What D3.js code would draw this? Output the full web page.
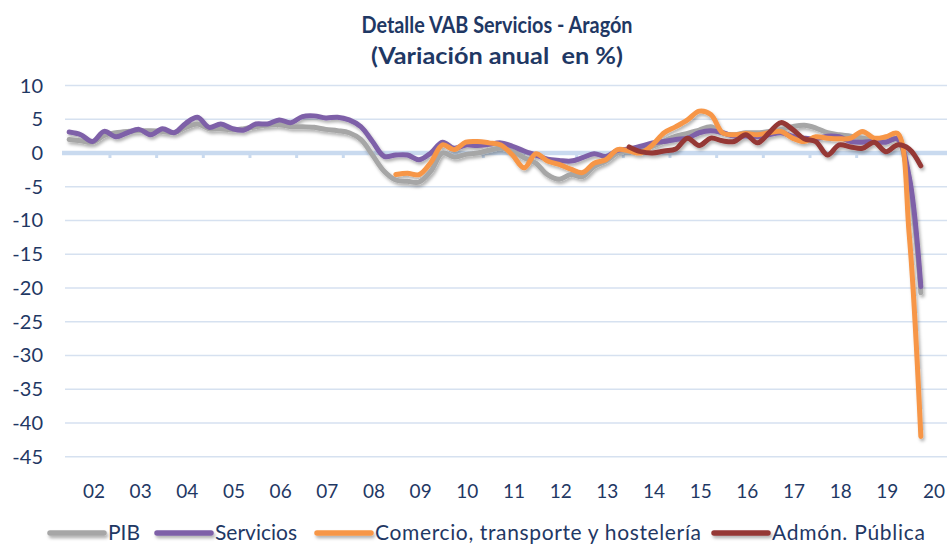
<!DOCTYPE html>
<html>
<head>
<meta charset="utf-8">
<script src="https://cdn.jsdelivr.net/npm/d3@7"></script>
<style>
  body { margin: 0; background: #fff; }
  text { font-family: Lato, "Open Sans", sans-serif; fill: #1F3864; white-space: pre; }
</style>
</head>
<body>
<svg width="947" height="544"></svg>
<script>
// years shown on the axis, quarterly data 2002T1 .. 2020T2
var years = ["02", "03", "04", "05", "06", "07", "08", "09", "10", "11",
             "12", "13", "14", "15", "16", "17", "18", "19", "20"];
var quarters = [];
years.forEach(y => ["T1", "T2", "T3", "T4"].forEach(q => quarters.push(y + q)));
quarters = quarters.slice(0, 74);

var yTicks = [10, 5, 0, -5, -10, -15, -20, -25, -30, -35, -40, -45];

var pib = [2.0, 1.8, 1.6, 2.6, 3.0, 3.2, 3.3, 3.3, 3.2, 3.0, 3.8, 4.3,
           3.6, 3.6, 3.4, 3.6, 3.9, 4.1, 4.2, 3.9, 3.9, 3.8, 3.5, 3.3,
           3.0, 2.0, -0.3, -2.7, -4.0, -4.2, -4.3, -2.7, 0.0, -0.6, -0.2, 0.0,
           0.4, 0.7, 0.3, -0.7, -1.5, -3.2, -3.9, -3.2, -3.5, -2.0, -1.2, 0.0,
           0.3, 0.5, 1.0, 1.8, 2.5, 2.9, 3.4, 3.9, 3.0, 2.7, 3.0, 3.0,
           3.2, 3.5, 3.9, 4.1, 3.7, 3.0, 2.7, 2.5, 2.2, 2.0, 1.9, 2.0,
           -4.5, -20.7];

var servicios = [3.1, 2.7, 1.7, 3.2, 2.4, 3.0, 3.5, 2.7, 3.6, 3.0, 4.4, 5.3,
                 3.8, 4.3, 3.6, 3.4, 4.3, 4.3, 4.9, 4.5, 5.4, 5.5, 5.2, 5.3,
                 4.9, 3.9, 1.7, -0.5, -0.3, -0.3, -1.0, 0.0, 1.6, 0.7, 1.2, 1.1,
                 1.3, 1.5, 1.0, 0.3, -0.3, -0.9, -1.1, -1.2, -0.7, -0.1, -0.5, 0.4,
                 0.6, 1.0, 1.5, 1.7, 2.0, 2.2, 3.0, 3.3, 3.0, 2.5, 2.5, 2.4,
                 2.7, 3.0, 2.5, 2.2, 2.1, 2.5, 2.4, 1.7, 1.6, 1.7, 1.6, 2.1,
                 -3.5, -19.8];

var comercio = [null, null, null, null, null, null, null, null, null, null, null, null,
                null, null, null, null, null, null, null, null, null, null, null, null,
                null, null, null, null, -3.2, -3.0, -3.2, -1.4, 1.2, 0.5, 1.6, 1.7,
                1.5, 1.2, -0.3, -2.2, -0.1, -1.2, -1.7, -2.4, -2.9, -1.5, -1.0, 0.5,
                0.3, 0.0, 1.2, 3.0, 3.9, 4.9, 6.2, 5.7, 3.0, 2.7, 2.9, 2.7,
                3.0, 3.2, 2.2, 1.7, 2.4, 2.2, 2.1, 2.2, 3.2, 2.2, 2.4, 2.9,
                -12.0, -42.0];

var admon = [null, null, null, null, null, null, null, null, null, null, null, null,
             null, null, null, null, null, null, null, null, null, null, null, null,
             null, null, null, null, null, null, null, null, null, null, null, null,
             null, null, null, null, null, null, null, null, null, null, null, null,
             0.9, 0.2, 0.0, 0.3, 0.6, 2.2, 1.1, 2.2, 1.8, 1.7, 2.7, 1.5,
             3.0, 4.5, 3.5, 2.1, 1.7, -0.3, 1.2, 0.9, 0.7, 1.6, 0.2, 1.2,
             0.6, -1.9];

var seriesNames = ["PIB", "Servicios", "Comercio, transporte y hostelería", "Admón. Pública"];
var seriesData = [pib, servicios, comercio, admon];
var colors = ["#A6A6A6", "#7E60A8", "#F79646", "#953735"];

var svg = d3.select("svg");

// drop shadow like the excel lines (user space so flat legend lines work too)
var defs = svg.append("defs");
defs.append("filter")
    .attr("id", "shadow")
    .attr("filterUnits", "userSpaceOnUse")
    .attr("x", 0).attr("y", 0)
    .attr("width", 947).attr("height", 544)
    .append("feDropShadow")
    .attr("dx", 1.5).attr("dy", 2.5)
    .attr("stdDeviation", 1.5)
    .attr("flood-color", "#000")
    .attr("flood-opacity", 0.3);

var x = d3.scaleLinear().domain([-0.5, 75.5]).range([63.3, 950]);
var y = d3.scaleLinear().domain([-45, 10]).range([456.7, 85.5]);

// title
svg.append("text")
    .attr("x", 497).attr("y", 33)
    .attr("text-anchor", "middle")
    .attr("font-size", 22).attr("font-weight", "bold")
    .attr("textLength", 271).attr("lengthAdjust", "spacingAndGlyphs")
    .text("Detalle VAB Servicios - Aragón");
svg.append("text")
    .attr("x", 497).attr("y", 64)
    .attr("text-anchor", "middle")
    .attr("font-size", 22).attr("font-weight", "bold")
    .attr("textLength", 252).attr("lengthAdjust", "spacingAndGlyphs")
    .text("(Variación anual  en %)");

// grid
svg.append("g")
    .selectAll("line")
    .data(yTicks.filter(d => d !== 0))
    .enter()
    .append("line")
    .attr("x1", 65).attr("x2", 947)
    .attr("y1", d => y(d)).attr("y2", d => y(d))
    .attr("stroke", "#D6E1F0")
    .attr("stroke-width", 1.6);

svg.append("line")
    .attr("x1", 62).attr("x2", 947)
    .attr("y1", y(0)).attr("y2", y(0))
    .attr("stroke", "#C9DAEF")
    .attr("stroke-width", 4.5);

// year boundary ticks on the zero line
var boundaries = d3.range(1, years.length).map(k => 4 * k - 0.5);
svg.append("g")
    .selectAll("line")
    .data(boundaries)
    .enter()
    .append("line")
    .attr("x1", d => x(d)).attr("x2", d => x(d))
    .attr("y1", y(0)).attr("y2", y(0) + 5)
    .attr("stroke", "#C9DAEF")
    .attr("stroke-width", 3);

// y labels
svg.append("g")
    .selectAll("text")
    .data(yTicks)
    .enter()
    .append("text")
    .attr("x", 43)
    .attr("y", d => y(d) + 7)
    .attr("text-anchor", "end")
    .attr("font-size", 20)
    .text(d => d);

// year labels
svg.append("g")
    .selectAll("text")
    .data(years)
    .enter()
    .append("text")
    .attr("x", (d, k) => x(4 * k + 2) + 1.5)
    .attr("y", 498)
    .attr("text-anchor", "middle")
    .attr("font-size", 19)
    .text(d => d);

// lines
var line = d3.line()
    .defined(d => d !== null)
    .x((d, i) => x(i))
    .y(d => y(d))
    .curve(d3.curveCatmullRom.alpha(0.5));

svg.append("g")
    .attr("filter", "url(#shadow)")
    .selectAll("path")
    .data(seriesData)
    .enter()
    .append("path")
    .attr("d", d => line(d))
    .attr("fill", "none")
    .attr("stroke", (d, k) => colors[k])
    .attr("stroke-width", 5)
    .attr("stroke-linejoin", "round")
    .attr("stroke-linecap", "round");

// legend: swatch start and text width per item
var legendX = [48, 155, 315, 712];
var legendW = [null, null, 326, 153];
var legend = svg.append("g");
seriesNames.forEach((name, k) => {
    legend.append("line")
        .attr("x1", legendX[k] + 2).attr("x2", legendX[k] + 56)
        .attr("y1", 533).attr("y2", 533)
        .attr("stroke", colors[k])
        .attr("stroke-width", 5.5)
        .attr("stroke-linecap", "round")
        .attr("filter", "url(#shadow)");
    var t = legend.append("text")
        .attr("x", legendX[k] + 60).attr("y", 540)
        .attr("font-size", 21)
        .text(name);
    if (legendW[k]) t.attr("textLength", legendW[k]).attr("lengthAdjust", "spacing");
});
</script>
</body>
</html>
